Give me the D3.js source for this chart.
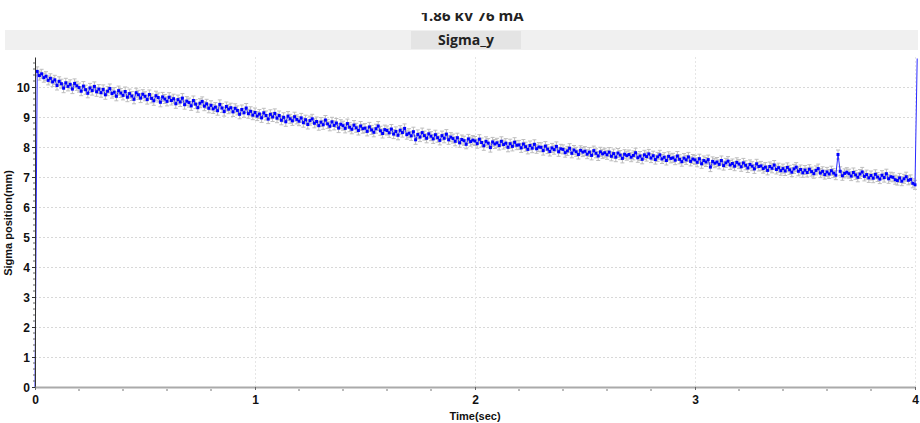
<!DOCTYPE html>
<html>
<head>
<meta charset="utf-8">
<script src="https://cdn.jsdelivr.net/npm/d3@7"></script>
<style>
  html, body { margin: 0; padding: 0; background: #fff; }
  svg { display: block; }
  .tick-lbl { font-family: "Liberation Sans", Arial, sans-serif; font-weight: bold; font-size: 12px; fill: #111; }
  .ax-title { font-family: "Liberation Sans", Arial, sans-serif; font-weight: bold; font-size: 11px; fill: #111; }
  .hdr { font-family: "Open Sans", sans-serif; font-weight: bold; font-size: 14px; fill: #222; }
</style>
</head>
<body>
<div id="chart"></div>
<script>
/* Sigma_y vs time, 1.86 kV 76 mA
   values, one row = 0.1 s (dt = 0.01 s) */

const chartTitle = "1.86 kV 76 mA";
const panelTitle = "Sigma_y";
const xLabel = "Time(sec)";
const yLabel = "Sigma position(mm)";
const xTicks = [0, 1, 2, 3, 4];
const yTicks = [0, 1, 2, 3, 4, 5, 6, 7, 8, 9, 10];

const dt = 0.01;       // sample step (sec)
const errBar = 0.15;   // +/- error (mm)

const sigmaY = [
  0, 10.52, 10.38, 10.44, 10.31, 10.36, 10.22, 10.29, 10.17, 10.24,
  10.05, 10.19, 10.11, 9.96, 10.14, 10.02, 10.09, 9.93, 10.12, 10.04,
  9.98, 9.86, 10.03, 9.91, 9.79, 9.97, 9.88, 10.02, 9.84, 9.93,
  9.81, 9.92, 9.74, 9.86, 9.95, 9.78, 9.83, 9.69, 9.88, 9.80,
  9.72, 9.85, 9.66, 9.78, 9.70, 9.59, 9.81, 9.74, 9.63, 9.76,
  9.69, 9.58, 9.75, 9.62, 9.54, 9.71, 9.65, 9.49, 9.67, 9.60,
  9.52, 9.66, 9.55, 9.61, 9.44, 9.58, 9.50, 9.63, 9.41, 9.53,
  9.48, 9.37, 9.55, 9.43, 9.31, 9.46, 9.52, 9.36, 9.44, 9.29,
  9.39, 9.27, 9.33, 9.21, 9.42, 9.30, 9.18, 9.35, 9.26, 9.31,
  9.17, 9.29, 9.22, 9.09, 9.25, 9.14, 9.30, 9.11, 9.19, 9.06,
  9.15, 9.03, 9.10, 8.97, 9.14, 9.05, 8.93, 9.09, 9.00, 9.12,
  8.96, 9.05, 8.89, 8.99, 8.84, 9.03, 8.94, 8.87, 9.01, 8.92,
  8.86, 8.97, 8.81, 8.91, 8.75, 8.88, 8.94, 8.79, 8.85, 8.71,
  8.83, 8.74, 8.90, 8.77, 8.69, 8.84, 8.72, 8.80, 8.63, 8.76,
  8.71, 8.62, 8.78, 8.66, 8.59, 8.73, 8.64, 8.55, 8.70, 8.61,
  8.63, 8.52, 8.67, 8.57, 8.49, 8.61, 8.70, 8.54, 8.45, 8.58,
  8.55, 8.47, 8.60, 8.43, 8.52, 8.39, 8.56, 8.48, 8.62, 8.41,
  8.46, 8.37, 8.51, 8.24, 8.42, 8.33, 8.48, 8.38, 8.29, 8.44,
  8.36, 8.27, 8.41, 8.31, 8.22, 8.38, 8.29, 8.43, 8.24, 8.33,
  8.28, 8.19, 8.31, 8.14, 8.25, 8.21, 8.09, 8.27, 8.18, 8.23,
  8.20, 8.11, 8.26, 8.15, 8.04, 8.19, 8.13, 7.98, 8.17, 8.10,
  8.14, 8.05, 8.19, 8.08, 8.13, 7.99, 8.11, 8.02, 8.16, 8.06,
  8.07, 7.97, 8.10, 8.01, 7.92, 8.05, 7.96, 8.09, 7.94, 8.00,
  7.99, 7.88, 8.03, 7.93, 7.85, 7.97, 7.91, 8.02, 7.84, 7.94,
  7.92, 7.81, 7.87, 7.96, 7.79, 7.90, 7.84, 7.75, 7.89, 7.83,
  7.86, 7.76, 7.83, 7.72, 7.88, 7.79, 7.70, 7.84, 7.77, 7.81,
  7.74, 7.83, 7.69, 7.78, 7.66, 7.80, 7.73, 7.62, 7.76, 7.71,
  7.75, 7.66, 7.72, 7.81, 7.64, 7.70, 7.59, 7.74, 7.68, 7.77,
  7.63, 7.71, 7.58, 7.67, 7.74, 7.60, 7.66, 7.55, 7.69, 7.62,
  7.64, 7.56, 7.70, 7.59, 7.51, 7.63, 7.57, 7.67, 7.52, 7.60,
  7.57, 7.49, 7.61, 7.44, 7.55, 7.50, 7.58, 7.33, 7.52, 7.46,
  7.50, 7.42, 7.55, 7.38, 7.47, 7.53, 7.40, 7.45, 7.36, 7.49,
  7.43, 7.34, 7.47, 7.39, 7.30, 7.42, 7.36, 7.27, 7.44, 7.35,
  7.37, 7.28, 7.33, 7.22, 7.35, 7.29, 7.40, 7.25, 7.31, 7.21,
  7.28, 7.20, 7.32, 7.24, 7.16, 7.27, 7.33, 7.19, 7.25, 7.14,
  7.23, 7.15, 7.26, 7.18, 7.11, 7.22, 7.28, 7.13, 7.19, 7.08,
  7.17, 7.10, 7.21, 7.13, 7.06, 7.75, 7.19, 7.04, 7.12, 7.16,
  7.11, 7.03, 7.15, 7.07, 6.99, 7.10, 7.17, 7.02, 7.08, 6.97,
  7.05, 6.96, 7.09, 7.00, 6.93, 7.06, 6.98, 7.11, 6.94, 7.01,
  6.99, 6.91, 6.88, 6.97, 6.86, 6.94, 7.01, 6.89, 6.92, 6.79,
  6.74, 10.95
];

(function () {
  const W = 920, H = 423;
  const m = { left: 35, right: 5, top: 57, bottom: 36 };

  const data = sigmaY.map((v, i) => ({ t: i * dt, v }));

  const svg = d3.select("#chart").append("svg")
    .attr("width", W).attr("height", H);

  // ---- header: title (top is cut off in the screenshot) + panel band
  svg.append("clipPath").attr("id", "hclip")
    .append("rect").attr("x", 0).attr("y", 13).attr("width", W).attr("height", 17);
  svg.append("text").attr("class", "hdr")
    .attr("clip-path", "url(#hclip)")
    .attr("x", 472).attr("y", 21).attr("text-anchor", "middle")
    .style("font-size", "15px")
    .text(chartTitle);

  svg.append("rect").attr("x", 5).attr("y", 30).attr("width", 913).attr("height", 20)
    .attr("fill", "#f0f0f0");
  svg.append("rect").attr("x", 411).attr("y", 31).attr("width", 110).attr("height", 18)
    .attr("fill", "#e4e4e4");
  svg.append("text").attr("class", "hdr")
    .attr("x", 466).attr("y", 45).attr("text-anchor", "middle")
    .text(panelTitle);

  // ---- scales
  const x = d3.scaleLinear().domain([0, 4]).range([m.left, W - m.right]);
  const y = d3.scaleLinear().domain([0, 11]).range([H - m.bottom, m.top]);
  const y0 = y(0);

  // ---- grid (dotted)
  const grid = svg.append("g").attr("stroke", "#d8d8d8").attr("stroke-dasharray", "2,2")
    .attr("shape-rendering", "crispEdges");
  grid.selectAll("line.gy").data(yTicks.filter(d => d > 0)).join("line")
    .attr("x1", m.left).attr("x2", W - m.right)
    .attr("y1", d => Math.round(y(d)) + 0.5).attr("y2", d => Math.round(y(d)) + 0.5);
  grid.selectAll("line.gx").data(xTicks.filter(d => d > 0)).join("line")
    .attr("stroke", "#e6e6e6")
    .attr("y1", m.top).attr("y2", y0)
    .attr("x1", d => Math.round(x(d)) + 0.5).attr("x2", d => Math.round(x(d)) + 0.5);

  // ---- error bars
  const eb = svg.append("g").attr("stroke", "#bdbdbd").attr("stroke-width", 1);
  const pts = data.slice(1, -1);
  eb.selectAll("line.v").data(pts).join("line")
    .attr("x1", d => x(d.t)).attr("x2", d => x(d.t))
    .attr("y1", d => y(d.v + errBar)).attr("y2", d => y(d.v - errBar));
  eb.selectAll("line.top").data(pts).join("line")
    .attr("x1", d => x(d.t) - 2).attr("x2", d => x(d.t) + 2)
    .attr("y1", d => y(d.v + errBar)).attr("y2", d => y(d.v + errBar));
  eb.selectAll("line.bot").data(pts).join("line")
    .attr("x1", d => x(d.t) - 2).attr("x2", d => x(d.t) + 2)
    .attr("y1", d => y(d.v - errBar)).attr("y2", d => y(d.v - errBar));

  // ---- line + markers
  const line = d3.line().x(d => x(d.t)).y(d => Math.max(y(d.v), m.top));
  svg.append("path").datum(data)
    .attr("fill", "none").attr("stroke", "#2a2aff").attr("stroke-width", 1)
    .attr("d", line);

  svg.append("g").attr("fill", "#0000ff")
    .selectAll("rect").data(pts).join("rect")
    .attr("x", d => x(d.t) - 1.5).attr("y", d => y(d.v) - 1.5)
    .attr("width", 3).attr("height", 3);

  // ---- axes
  const yAxis = d3.axisLeft(y).tickValues(yTicks).tickSize(3).tickSizeOuter(0).tickFormat(d3.format("d"));
  const gy = svg.append("g").attr("transform", `translate(${m.left},0)`).call(yAxis);
  gy.select(".domain").attr("stroke", "#333");
  gy.selectAll(".tick line").attr("stroke", "#333");
  gy.selectAll(".tick text").attr("class", "tick-lbl").attr("x", -5).attr("dy", "0.36em");

  const yMinor = d3.range(0, 55).map(i => i * 0.2).filter(v => v <= 11 && Math.abs(v - Math.round(v)) > 0.01);
  gy.append("g").selectAll("line").data(yMinor).join("line")
    .attr("x1", -2).attr("x2", 0)
    .attr("y1", d => y(d)).attr("y2", d => y(d))
    .attr("stroke", "#666");

  const xAxis = d3.axisBottom(x).tickValues(xTicks).tickSize(3).tickSizeOuter(0).tickFormat(d3.format("d"));
  const gx = svg.append("g").attr("transform", `translate(0,${y0})`).call(xAxis);
  gx.select(".domain").attr("stroke", "#aaa").attr("stroke-width", 2);
  gx.selectAll(".tick line").attr("stroke", "#666");
  gx.selectAll(".tick text").attr("class", "tick-lbl").attr("y", 8).attr("dy", "0.71em");

  const xMinor = d3.range(0, 21).map(i => i * 0.2).filter(v => Math.abs(v - Math.round(v)) > 0.01);
  gx.append("g").selectAll("line").data(xMinor).join("line")
    .attr("x1", d => x(d)).attr("x2", d => x(d))
    .attr("y1", 2).attr("y2", 4)
    .attr("stroke", "#777");

  // ---- axis titles
  svg.append("text").attr("class", "ax-title")
    .attr("x", x(2)).attr("y", 420).attr("text-anchor", "middle")
    .text(xLabel);
  svg.append("text").attr("class", "ax-title")
    .attr("transform", `translate(12,${(m.top + y0) / 2 + 1}) rotate(-90)`)
    .attr("text-anchor", "middle")
    .text(yLabel);
})();
</script>
</body>
</html>
